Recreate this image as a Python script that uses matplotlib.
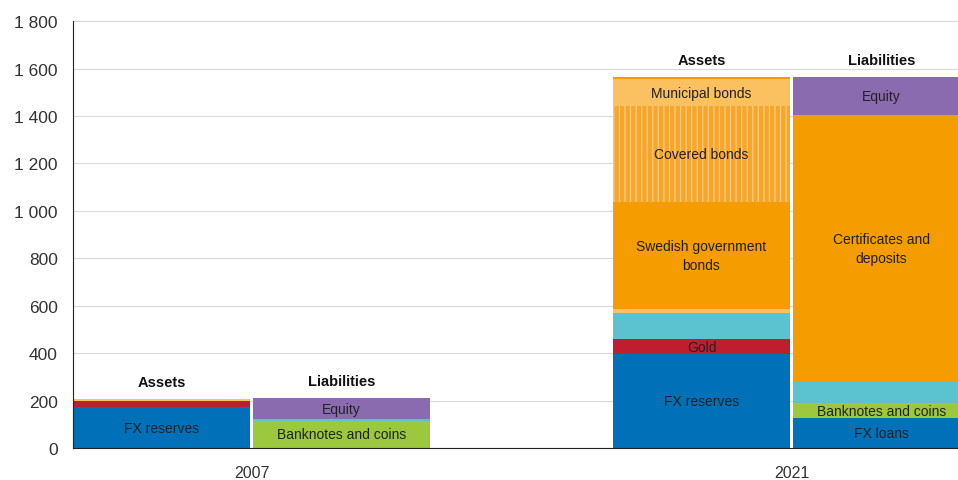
import matplotlib
matplotlib.use("Agg")
import matplotlib.pyplot as plt
from matplotlib.ticker import FuncFormatter

plt.rcParams.update({
    "font.family": "Liberation Sans",
    "font.size": 10,
    "hatch.linewidth": 0.9,
})

# bars: 2007 assets, 2007 liabilities, 2021 assets, 2021 liabilities
bar_pos = [0, 1, 3, 4]
bar_side = ["Assets", "Liabilities", "Assets", "Liabilities"]
years = ["2007", "2021"]
year_pos = [0.5, 3.5]

# segments, bottom to top (SEK billion)
fx_reserves  = [172, 0, 396, 0]
gold         = [28, 0, 63, 0]
other_assets = [0, 0, 110, 0]
lending      = [8, 0, 17, 0]
gov_bonds    = [0, 0, 451, 0]
covered      = [0, 0, 405, 0]
municipal    = [0, 0, 113, 0]
other_top    = [0, 0, 9, 0]
fx_loans     = [0, 0, 0, 126]
banknotes    = [0, 115, 0, 64]
other_liab   = [0, 6, 0, 92]
certificates = [0, 0, 0, 1122]
equity       = [0, 90, 0, 160]

BLUE   = "#0070B8"
RED    = "#BE1E2D"
CYAN   = "#5BC2D0"
LIGHT  = "#FBC060"
ORANGE = "#F59C00"
GREEN  = "#9BC83C"
PURPLE = "#8B6BB0"

segments = [
    (fx_reserves, BLUE, "FX reserves", None),
    (gold, RED, "Gold", None),
    (other_assets, CYAN, None, None),
    (lending, LIGHT, None, None),
    (gov_bonds, ORANGE, "Swedish government\nbonds", None),
    (covered, "#F7A62C", "Covered bonds", "|||"),
    (municipal, LIGHT, "Municipal bonds", None),
    (other_top, ORANGE, None, None),
    (fx_loans, BLUE, "FX loans", None),
    (banknotes, GREEN, "Banknotes and coins", None),
    (other_liab, CYAN, None, None),
    (certificates, ORANGE, "Certificates and\ndeposits", None),
    (equity, PURPLE, "Equity", None),
]

fig = plt.figure(figsize=(9.58, 4.81), dpi=100)
ax = fig.add_axes([0.0762, 0.0665, 0.9238, 0.8875])

w = 0.983
bottom = [0, 0, 0, 0]
for vals, col, lab, hatch in segments:
    if hatch:
        ax.bar(bar_pos, vals, w, bottom=bottom, facecolor=col, edgecolor="#FCCB7E",
               linewidth=0, hatch=hatch, zorder=3)
    else:
        ax.bar(bar_pos, vals, w, bottom=bottom, color=col, linewidth=0, zorder=3)
    for i, v in enumerate(vals):
        if lab and v > 40:
            ax.text(bar_pos[i], bottom[i] + v / 2, lab, ha="center", va="center",
                    fontsize=10, color="#222222", zorder=4, linespacing=1.45)
    bottom = [b + v for b, v in zip(bottom, vals)]

for i, tot in enumerate(bottom):
    ax.text(bar_pos[i], tot + 70, bar_side[i], ha="center", va="center",
            fontsize=10.5, fontweight="bold", color="#111111")

ax.set_ylim(0, 1800)
ax.set_yticks(range(0, 1801, 200))
ax.yaxis.set_major_formatter(FuncFormatter(lambda v, p: f"{int(v):,}".replace(",", " ")))
ax.set_xlim(-0.4917, 4.425)
ax.set_xticks(year_pos)
ax.set_xticklabels(years)
ax.tick_params(axis="both", length=0, colors="#333333")
ax.tick_params(axis="x", pad=12, labelsize=11.5)
ax.tick_params(axis="y", pad=11, labelsize=12.5)
ax.grid(axis="y", color="#D9D9D9", linewidth=0.8, zorder=0)
for s in ["top", "right"]:
    ax.spines[s].set_visible(False)
ax.spines["left"].set_color("#222222")
ax.spines["bottom"].set_color("#222222")
ax.spines["left"].set_zorder(5)
ax.spines["bottom"].set_zorder(5)

fig.savefig("out.png", dpi=100)
